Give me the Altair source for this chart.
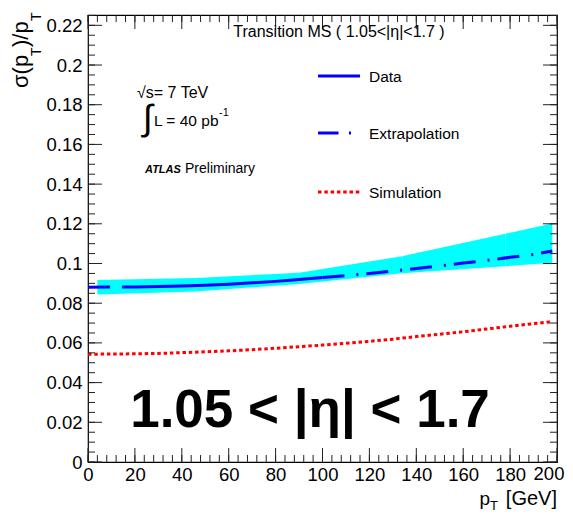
import altair as alt
import pandas as pd

# ---------------- data ----------------
pt = [0, 15, 20, 30, 40, 50, 60, 70, 80, 90, 100, 110, 120, 130, 140, 150, 160, 170, 180, 190, 198]
data_sigma = [0.0880, 0.0882, 0.0882, 0.0884, 0.0887, 0.0891, 0.0896, 0.0903, 0.0910, 0.0919,
              0.0929, 0.0939, 0.0950, 0.0962, 0.0975, 0.0988, 0.1002, 0.1016, 0.1031, 0.1046, 0.1063]
data_range = [15, 100]  # measured (solid) part; outside it the curve is extrapolated

sim_pt = [0, 10, 20, 30, 40, 50, 60, 70, 80, 90, 100, 110, 120, 130, 140, 150, 160, 170, 180, 190, 198]
sim_sigma = [0.0543, 0.0544, 0.0545, 0.0547, 0.0551, 0.0555, 0.0560, 0.0566, 0.0573, 0.0581,
             0.0589, 0.0598, 0.0608, 0.0619, 0.0632, 0.0644, 0.0656, 0.0670, 0.0684, 0.0697, 0.0707]

band_pt = [4, 46, 90, 134, 178, 198]
band_lo = [0.0844, 0.0859, 0.0897, 0.0951, 0.0986, 0.1004]
band_hi = [0.0917, 0.0927, 0.0953, 0.1037, 0.1150, 0.1202]

x_labels = [0, 20, 40, 60, 80, 100, 120, 140, 160, 180]
x_last_label = [200]
y_labels = [0, 0.02, 0.04, 0.06, 0.08, 0.1, 0.12, 0.14, 0.16, 0.18, 0.2, 0.22]
x_major = x_labels + x_last_label
x_minor = list(range(0, 201, 4))
y_minor = [i * 0.005 for i in range(0, 46)]

legend_labels = ["Data", "Extrapolation", "Simulation"]
header = "Transition MS ( 1.05<|\u03b7|<1.7 )"
big_label = "1.05 < |\u03b7| < 1.7"

# ---------------- tables ----------------
rows = []
lo, hi = data_range
for p, s in zip(pt, data_sigma):
    if p <= lo:
        rows.append({"pt": p, "sigma": s, "seg": "low"})
    if lo <= p <= hi:
        rows.append({"pt": p, "sigma": s, "seg": "data"})
    if p >= hi:
        rows.append({"pt": p, "sigma": s, "seg": "high"})
curve = pd.DataFrame(rows)
sim = pd.DataFrame({"pt": sim_pt, "sigma": sim_sigma})

band_rows = []
for i in range(len(band_pt) - 1):
    for j in (i, i + 1):
        band_rows.append({"pt": band_pt[j], "lo": band_lo[j], "hi": band_hi[j], "seg": i})
band = pd.DataFrame(band_rows)

W, H = 469, 447
FONT = "Liberation Sans"
LABEL_SIZE = 18.5
one = pd.DataFrame({"a": [0]})

xs = alt.Scale(domain=[0, 200], nice=False, zero=False)
ys = alt.Scale(domain=[0, 0.2252], nice=False, zero=False)
xaxis = alt.Axis(values=x_labels, ticks=False, domain=False, grid=False, title=None,
                 labelFont=FONT, labelFontSize=LABEL_SIZE, labelColor="black", labelPadding=3,
                 labelOverlap=False, labelFlush=False)
yaxis = alt.Axis(values=y_labels, ticks=False, domain=False, grid=False, title=None,
                 labelFont=FONT, labelFontSize=LABEL_SIZE, labelColor="black", labelPadding=6,
                 labelOverlap=False, labelFlush=False, format="~g")

band_layer = alt.Chart(band).mark_area(color="#00ffff", opacity=1).encode(
    x=alt.X("pt:Q", scale=xs, axis=xaxis),
    y=alt.Y("lo:Q", scale=ys, axis=yaxis),
    y2="hi:Q",
    detail="seg:N",
)

data_line = alt.Chart(curve).transform_filter(alt.datum.seg == "data").mark_line(
    color="#0000ff", strokeWidth=3).encode(
    x=alt.X("pt:Q", scale=xs, axis=xaxis),
    y=alt.Y("sigma:Q", scale=ys, axis=yaxis),
)
extra_line = alt.Chart(curve).transform_filter(alt.datum.seg != "data").mark_line(
    color="#0000ff", strokeWidth=3, strokeDash=[22, 12, 2, 8]).encode(
    x=alt.X("pt:Q", scale=xs, axis=xaxis),
    y=alt.Y("sigma:Q", scale=ys, axis=yaxis),
    detail="seg:N",
)
sim_line = alt.Chart(sim).mark_line(color="#ff0000", strokeWidth=3, strokeDash=[3.5, 2.8]).encode(
    x=alt.X("pt:Q", scale=xs, axis=xaxis),
    y=alt.Y("sigma:Q", scale=ys, axis=yaxis),
)

# last x label drawn as text, nudged left so it stays on the page
last_label = alt.Chart(pd.DataFrame({"v": x_last_label})).mark_text(
    font=FONT, fontSize=LABEL_SIZE, color="black", align="center", baseline="top", dx=-8,
).encode(x=alt.X("v:Q", scale=xs, axis=xaxis), y=alt.value(H + 3), text="v:N")

# ---------------- inside ticks (ROOT style, all four sides) ----------------
TK = "#222222"
def xticks(vals, length):
    d = pd.DataFrame({"v": vals})
    bottom = alt.Chart(d).mark_rule(color=TK, strokeWidth=1).encode(
        x=alt.X("v:Q", scale=xs, axis=xaxis), y=alt.value(H), y2=alt.value(H - length))
    top = alt.Chart(d).mark_rule(color=TK, strokeWidth=1).encode(
        x=alt.X("v:Q", scale=xs, axis=xaxis), y=alt.value(0), y2=alt.value(length))
    return [bottom, top]

def yticks(vals, length):
    d = pd.DataFrame({"v": vals})
    left = alt.Chart(d).mark_rule(color=TK, strokeWidth=1).encode(
        y=alt.Y("v:Q", scale=ys, axis=yaxis), x=alt.value(0), x2=alt.value(length))
    right = alt.Chart(d).mark_rule(color=TK, strokeWidth=1).encode(
        y=alt.Y("v:Q", scale=ys, axis=yaxis), x=alt.value(W), x2=alt.value(W - length))
    return [left, right]

tick_layers = xticks(x_minor, 7) + xticks(x_major, 14) + yticks(y_minor, 7) + yticks(y_labels, 14)

# ---------------- text ----------------
def txt(s, x, y, size, align="left", baseline="alphabetic", weight="normal", style="normal", angle=0):
    return alt.Chart(one).mark_text(text=s, align=align, baseline=baseline, font=FONT,
                                    fontSize=size, fontWeight=weight, fontStyle=style,
                                    angle=angle, color="black").encode(
        x=alt.value(x), y=alt.value(y))

texts = [
    txt(header, 251, 22, 16, align="center"),
    txt("\u221as= 7 TeV", 49, 83, 16),
    txt("\u222b", 55, 115, 36),
    txt("L = 40 pb", 66, 111, 15.5),
    txt("-1", 131, 101, 11),
    txt("ATLAS", 57, 158, 11, weight="bold", style="italic"),
    txt("Preliminary", 97, 158, 14),
    txt(big_label, 222, 412, 53, align="center", weight="bold"),
    # x title
    txt("p", 402, 490, 19, align="right"),
    txt("T", 402, 495, 13),
    txt("[GeV]", 469, 490, 20, align="right"),
    # y title (rotated)
    txt("\u03c3(p", -60, 73, 22, angle=270),
    txt("T", -47, 41, 14, angle=270),
    txt(")/p", -60, 32, 22, angle=270),
    txt("T", -47, 6, 14, angle=270),
]

# ---------------- legend ----------------
legend = [
    alt.Chart(one).mark_rule(color="#0000ff", strokeWidth=3).encode(
        x=alt.value(230), x2=alt.value(272), y=alt.value(61)),
    alt.Chart(one).mark_rule(color="#0000ff", strokeWidth=3, strokeDash=[20.5, 10.5, 2, 10.3]).encode(
        x=alt.value(230), x2=alt.value(264), y=alt.value(118)),
    alt.Chart(one).mark_rule(color="#ff0000", strokeWidth=3, strokeDash=[3.5, 2.8]).encode(
        x=alt.value(230), x2=alt.value(272), y=alt.value(177)),
    txt(legend_labels[0], 281, 62, 15.5, baseline="middle"),
    txt(legend_labels[1], 281, 119, 15.5, baseline="middle"),
    txt(legend_labels[2], 281, 178, 15.5, baseline="middle"),
]

chart = alt.layer(band_layer, data_line, extra_line, sim_line, last_label,
                  *tick_layers, *texts, *legend).properties(
    width=W, height=H,
    padding={"left": 80, "top": 7, "right": 8, "bottom": 51},
    autosize=alt.AutoSizeParams(type="none"),
).configure_view(stroke="black", strokeWidth=1.2)

chart.save("out.html", embed_options={"renderer": "svg", "actions": False})
